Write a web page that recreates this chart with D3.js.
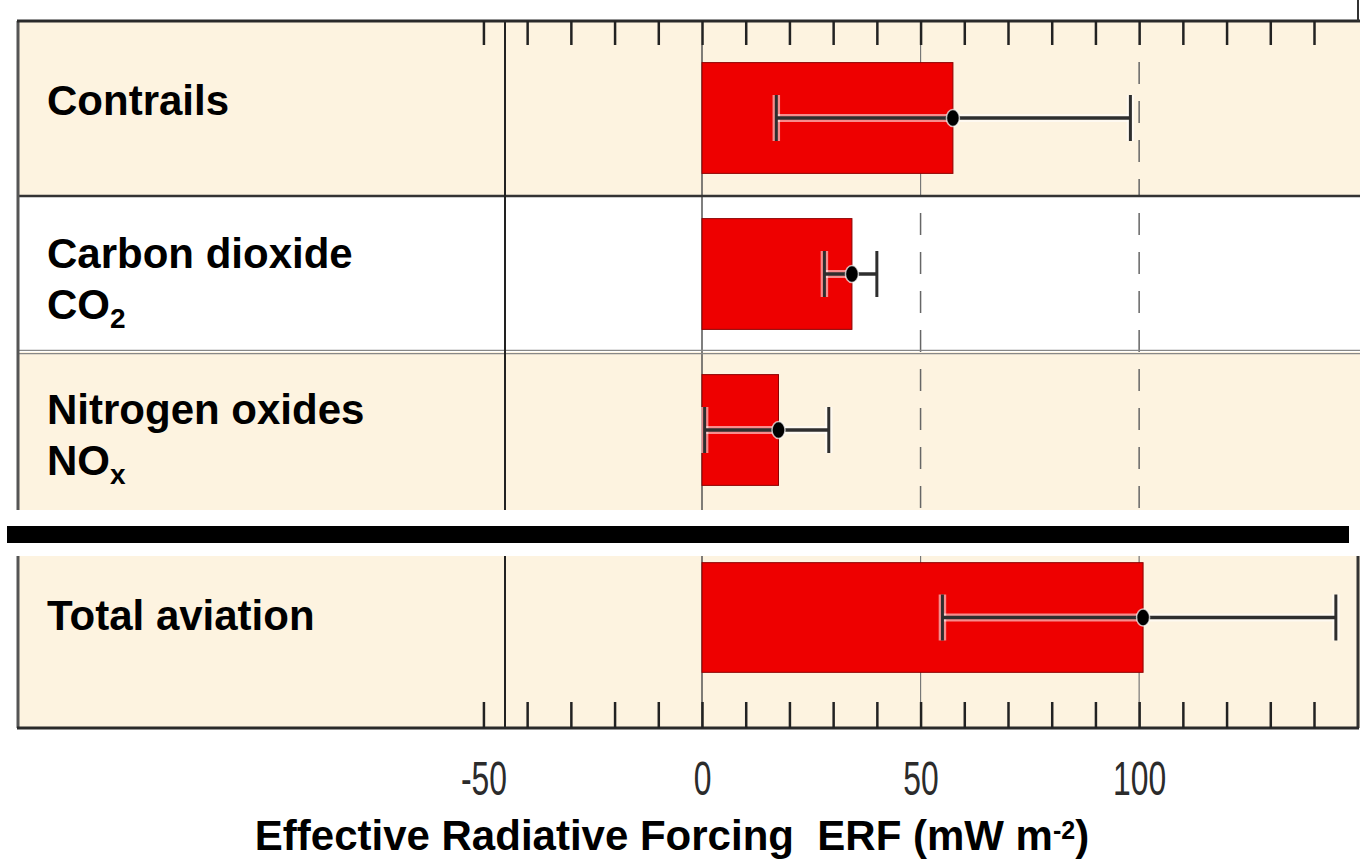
<!DOCTYPE html>
<html>
<head>
<meta charset="utf-8">
<script src="https://cdn.jsdelivr.net/npm/d3@7"></script>
<style>
    body { margin: 0; background: #fff; }
    svg { display: block; }
    text { font-family: 'Liberation Sans', Arial, sans-serif; }
</style>
</head>
<body>
<div id="chart"></div>
<script>
// ERF components (mW m-2), best estimate with 5-95% range
const categories = ['Contrails', 'Carbon dioxide', 'Nitrogen oxides'];
const formulas = ['', 'CO', 'NO'];
const formulaSubs = ['', '2', 'x'];
const best = [57.4, 34.3, 17.5];
const low = [17, 28, 0.6];
const high = [98, 40, 29];

const totalCategory = ['Total aviation'];
const totalBest = [100.9];
const totalLow = [55];
const totalHigh = [145];

const minorTicks = [-50, -40, -30, -20, -10, 0, 10, 20, 30, 40, 50, 60, 70, 80, 90, 100, 110, 120, 130, 140];
const labelTicks = [-50, 0, 50, 100];
const gridValues = [0, 50, 100];

const width = 1360, height = 859;
const beige = '#fdf3e0';
const red = '#ee0000';
const frameLeft = 18, frameRight = 1358, labelCol = 505;
const topPanel = { y0: 21, y1: 510 };
const botPanel = { y0: 556, y1: 728 };

let svg = d3.select('#chart').append('svg')
    .attr('width', width)
    .attr('height', height);

let x = d3.scaleLinear()
    .domain([0, 140])
    .range([702, 1314]);

let yTop = d3.scaleBand()
    .domain(categories)
    .range([40, 508])
    .paddingInner(0.29)
    .paddingOuter(0.145);

let yBot = d3.scaleBand()
    .domain(totalCategory)
    .range([555, 680])
    .paddingInner(0)
    .paddingOuter(0.07);

let topRows = categories.map(function(c, i) {
    return { name: c, formula: formulas[i], sub: formulaSubs[i], value: best[i], lo: low[i], hi: high[i] };
});
let totalRows = totalCategory.map(function(c, i) {
    return { name: c, formula: '', sub: '', value: totalBest[i], lo: totalLow[i], hi: totalHigh[i] };
});

// row extents from the band scale
function rowExtent(y, d, i, n, panel) {
    let half = y.step() * y.paddingInner() / 2;
    let top = (i === 0) ? panel.y0 : y(d.name) - half;
    let bottom = (i === n - 1) ? panel.y1 : y(d.name) + y.bandwidth() + half;
    return [top, bottom];
}

function drawPanel(rows, y, panel, singleOffset, isTop) {
    let g = svg.append('g');

    g.append('rect')
        .attr('x', frameLeft).attr('y', panel.y0)
        .attr('width', width - frameLeft).attr('height', panel.y1 - panel.y0)
        .style('fill', beige);

    rows.forEach(function(d, i) {
        let ext = rowExtent(y, d, i, rows.length, panel);
        // middle row of top panel is white
        if (isTop && i === 1) {
            g.append('rect')
                .attr('x', frameLeft).attr('y', ext[0])
                .attr('width', width - frameLeft).attr('height', ext[1] - ext[0])
                .style('fill', '#fff');
        }

        gridValues.forEach(function(v) {
            let line = g.append('line')
                .attr('x1', x(v)).attr('x2', x(v))
                .attr('y1', (isTop && i === 0) ? 45 : ext[0])
                .attr('y2', ext[1]);
            if (v === 0) {
                line.style('stroke', '#555').style('stroke-width', 1.5);
            } else if (v < d.value) {
                line.style('stroke', '#777').style('stroke-width', 1.2);
            } else {
                line.style('stroke', '#666').style('stroke-width', 1.5)
                    .style('stroke-dasharray', '22,17')
                    .style('stroke-dashoffset', -17);
            }
        });

        if (isTop && i === 1) {
            g.append('line')
                .attr('x1', frameLeft).attr('x2', width)
                .attr('y1', ext[0]).attr('y2', ext[0])
                .style('stroke', '#333').style('stroke-width', 2.5);
        }
        if (isTop && i === 2) {
            [-1.6, 1.6].forEach(function(o) {
                g.append('line')
                    .attr('x1', frameLeft).attr('x2', width)
                    .attr('y1', ext[0] + o).attr('y2', ext[0] + o)
                    .style('stroke', '#888').style('stroke-width', 1.2);
            });
        }
    });

    // label column divider
    g.append('line')
        .attr('x1', labelCol).attr('x2', labelCol)
        .attr('y1', panel.y0).attr('y2', panel.y1)
        .style('stroke', '#222').style('stroke-width', 2);

    let bars = g.selectAll('.bar')
        .data(rows)
        .enter()
        .append('g')
        .attr('class', 'bar');

    bars.append('rect')
        .attr('x', x(0))
        .attr('y', function(d) { return y(d.name); })
        .attr('width', function(d) { return x(d.value) - x(0); })
        .attr('height', y.bandwidth())
        .style('fill', red)
        .style('stroke', '#8c0000')
        .style('stroke-width', 1);

    // error bars: light halo underneath, dark core on top
    [['#fff', 8, 0.55], ['#2e2e2e', 3.5, 1]].forEach(function(s) {
        bars.append('line')
            .attr('x1', function(d) { return x(d.lo); })
            .attr('x2', function(d) { return x(d.hi); })
            .attr('y1', function(d) { return y(d.name) + y.bandwidth() / 2; })
            .attr('y2', function(d) { return y(d.name) + y.bandwidth() / 2; })
            .style('stroke', s[0]).style('stroke-width', s[1]).style('opacity', s[2]);
        ['lo', 'hi'].forEach(function(k) {
            bars.append('line')
                .attr('x1', function(d) { return x(d[k]); })
                .attr('x2', function(d) { return x(d[k]); })
                .attr('y1', function(d) { return y(d.name) + y.bandwidth() / 2 - 23; })
                .attr('y2', function(d) { return y(d.name) + y.bandwidth() / 2 + 23; })
                .style('stroke', s[0]).style('stroke-width', s[1] - 0.5).style('opacity', s[2]);
        });
    });

    bars.append('ellipse')
        .attr('cx', function(d) { return x(d.value); })
        .attr('cy', function(d) { return y(d.name) + y.bandwidth() / 2; })
        .attr('rx', 6.5)
        .attr('ry', 8.5)
        .style('fill', '#000')
        .style('stroke', '#fff')
        .style('stroke-opacity', 0.7)
        .style('stroke-width', 1.5);

    // row labels
    rows.forEach(function(d) {
        let cy = y(d.name) + y.bandwidth() / 2;
        if (d.formula) {
            g.append('text')
                .attr('x', 47).attr('y', cy - 6)
                .style('font-size', '42px').style('font-weight', 'bold')
                .text(d.name);
            let t = g.append('text')
                .attr('x', 47).attr('y', cy + 45)
                .style('font-size', '42px').style('font-weight', 'bold');
            t.append('tspan').text(d.formula);
            t.append('tspan').attr('dy', 9).style('font-size', '28px').text(d.sub);
        } else {
            g.append('text')
                .attr('x', 47).attr('y', cy + singleOffset)
                .style('font-size', '42px').style('font-weight', 'bold')
                .text(d.name);
        }
    });

    return g;
}

drawPanel(topRows, yTop, topPanel, -3, true);
drawPanel(totalRows, yBot, botPanel, 12, false);

// frame of the top panel
svg.append('line')
    .attr('x1', frameLeft).attr('x2', frameLeft)
    .attr('y1', topPanel.y0).attr('y2', topPanel.y1)
    .style('stroke', '#555').style('stroke-width', 3);
svg.append('line')
    .attr('x1', frameLeft - 1).attr('x2', width)
    .attr('y1', topPanel.y0).attr('y2', topPanel.y0)
    .style('stroke', '#2a2a2a').style('stroke-width', 3);
svg.append('line')
    .attr('x1', frameRight).attr('x2', frameRight)
    .attr('y1', 0).attr('y2', topPanel.y0)
    .style('stroke', '#333').style('stroke-width', 2);

// frame of the total panel
svg.append('line')
    .attr('x1', frameLeft).attr('x2', frameLeft)
    .attr('y1', botPanel.y0).attr('y2', botPanel.y1)
    .style('stroke', '#555').style('stroke-width', 3);
svg.append('line')
    .attr('x1', frameRight).attr('x2', frameRight)
    .attr('y1', botPanel.y0).attr('y2', botPanel.y1)
    .style('stroke', '#333').style('stroke-width', 3);
svg.append('line')
    .attr('x1', frameLeft - 1).attr('x2', frameRight + 1)
    .attr('y1', botPanel.y1).attr('y2', botPanel.y1)
    .style('stroke', '#2a2a2a').style('stroke-width', 3);

// thick separator bar
svg.append('rect')
    .attr('x', 7).attr('y', 526)
    .attr('width', 1342).attr('height', 17)
    .style('fill', '#000');

// tick marks
let topAxis = svg.append('g')
    .attr('transform', 'translate(0,' + topPanel.y0 + ')')
    .call(d3.axisTop(x).tickValues(minorTicks).tickSize(-24).tickFormat(''));
let botAxis = svg.append('g')
    .attr('transform', 'translate(0,' + botPanel.y1 + ')')
    .call(d3.axisBottom(x).tickValues(minorTicks).tickSize(-26).tickFormat(''));
[topAxis, botAxis].forEach(function(a) {
    a.select('.domain').remove();
    a.selectAll('.tick line').style('stroke', '#222').style('stroke-width', 2.5);
});

// tick labels (condensed digits)
let labelAxis = svg.append('g')
    .attr('transform', 'translate(0,' + botPanel.y1 + ')')
    .call(d3.axisBottom(x).tickValues(labelTicks).tickSize(0).tickFormat(function(d) { return String(d); }));
labelAxis.select('.domain').remove();
labelAxis.selectAll('.tick line').remove();
labelAxis.selectAll('.tick text')
    .attr('y', 67)
    .attr('dy', null)
    .attr('transform', 'scale(0.65,1)')
    .style('font-family', "'Liberation Sans', Arial, sans-serif")
    .style('font-size', '49px')
    .style('fill', '#2b2b2b');

// axis title
let title = svg.append('text')
    .attr('x', 672).attr('y', 850)
    .attr('text-anchor', 'middle')
    .style('font-size', '42px')
    .style('font-weight', 'bold');
title.append('tspan').text('Effective Radiative Forcing \u00a0ERF (mW m');
title.append('tspan').attr('dy', -11).style('font-size', '25px').text('-2');
title.append('tspan').attr('dy', 11).text(')');
</script>
</body>
</html>
